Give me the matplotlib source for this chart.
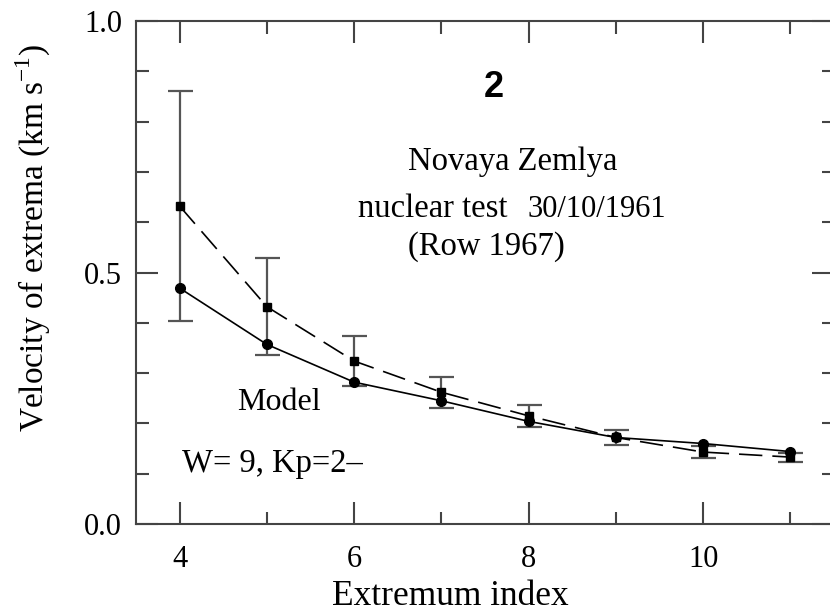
import matplotlib
matplotlib.use("Agg")
import matplotlib.pyplot as plt
from matplotlib.ticker import MultipleLocator, FixedLocator

# Data
extremum_index = [4, 5, 6, 7, 8, 9, 10, 11]
model_velocity = [0.469, 0.357, 0.282, 0.245, 0.204, 0.172, 0.160, 0.144]
observed_velocity = [0.632, 0.432, 0.324, 0.262, 0.215, 0.172, 0.143, 0.133]
observed_error = [0.229, 0.096, 0.049, 0.031, 0.022, 0.014, 0.012, 0.009]

x_ticks = [4, 6, 8, 10]
y_ticks = [0.0, 0.5, 1.0]
y_tick_labels = ["0.0", "0.5", "1.0"]

serif = ["Liberation Serif", "DejaVu Serif"]
plt.rcParams["font.family"] = serif
plt.rcParams["mathtext.fontset"] = "custom"
plt.rcParams["mathtext.rm"] = "Liberation Serif"

fig = plt.figure(figsize=(8.30, 6.13), dpi=100)
ax = fig.add_axes([136 / 830, 89 / 613, 698 / 830, 503 / 613])

spine_color = "#444444"
for s in ax.spines.values():
    s.set_color(spine_color)
    s.set_linewidth(1.5)

# error bars of observed data
ax.errorbar(extremum_index, observed_velocity, yerr=observed_error, fmt="none",
            ecolor="#555555", elinewidth=1.6, capsize=9, capthick=1.6, zorder=2)
# observed (dashed with squares)
ax.plot(extremum_index, observed_velocity, color="black", lw=1.2,
        dashes=(14, 6), marker="s", markersize=6, zorder=3)
# model (solid with circles)
ax.plot(extremum_index, model_velocity, color="black", lw=1.2,
        marker="o", markersize=7, zorder=3)

ax.set_xlim(3.5, 11.5)
ax.set_ylim(0.0, 1.0)

ax.xaxis.set_major_locator(FixedLocator(x_ticks))
ax.xaxis.set_minor_locator(MultipleLocator(1))
ax.yaxis.set_major_locator(FixedLocator(y_ticks))
ax.set_yticklabels(y_tick_labels)
ax.yaxis.set_minor_locator(MultipleLocator(0.1))

ax.tick_params(which="both", direction="in", top=True, right=True,
               color=spine_color, labelsize=22)
ax.tick_params(which="major", length=16, width=1.5)
ax.tick_params(which="minor", length=9, width=1.5)
ax.tick_params(axis="x", which="major", pad=15)
ax.tick_params(axis="y", which="major", pad=10)

fig.text(450 / 830, 8 / 613, "Extremum index", ha="center", va="baseline",
         fontsize=25.5, family=serif)
fig.text(33 / 830, (613 - 238) / 613, r"Velocity of extrema (km s$^{\mathregular{-1}}$)",
         rotation=90, ha="center", va="center", fontsize=24, family=serif)

ax.text(7.60, 0.867, "2", ha="center", va="center", fontsize=26,
        fontweight="bold", family=["Liberation Sans", "DejaVu Sans"])
ax.text(6.62, 0.704, "Novaya Zemlya", ha="left", va="baseline", fontsize=23.5)
ax.text(6.05, 0.610, "nuclear test", ha="left", va="baseline", fontsize=23.5)
ax.text(7.99, 0.610, "30/10/1961", ha="left", va="baseline", fontsize=22)
ax.text(6.62, 0.535, "(Row 1967)", ha="left", va="baseline", fontsize=23.5)
ax.text(4.66, 0.227, "Model", ha="left", va="baseline", fontsize=23)
ax.text(4.03, 0.104, "W= 9, Kp=2–", ha="left", va="baseline", fontsize=23.5)

fig.savefig("out.png", dpi=100)
